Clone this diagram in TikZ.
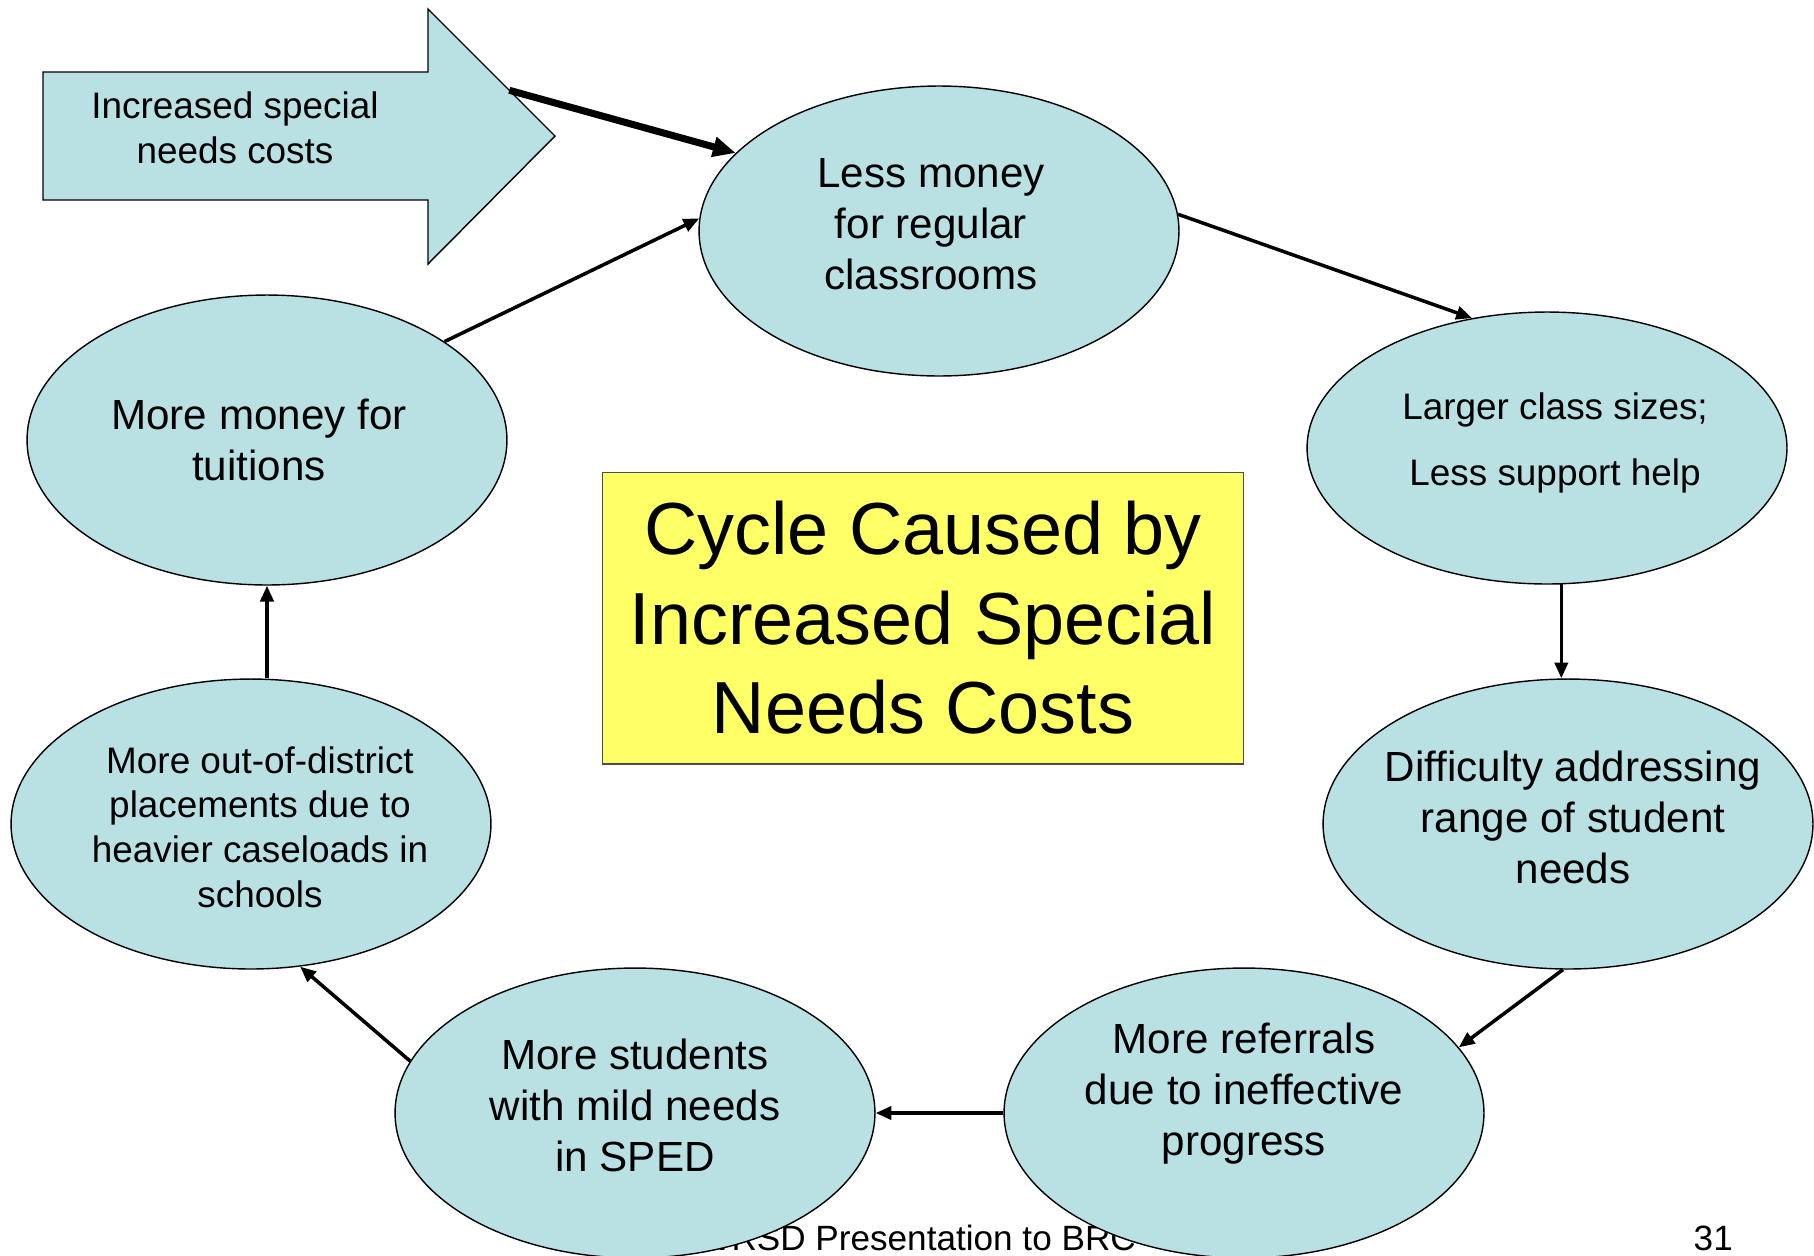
\documentclass[tikz,border=0pt]{standalone}
\usepackage{fontspec}
\setmainfont{Liberation Sans}
\usetikzlibrary{shapes,arrows.meta,calc}
\definecolor{tealfill}{HTML}{B9E0E3}
\definecolor{bannerfill}{HTML}{FFFF66}

\begin{document}
\begin{tikzpicture}[x=0.02cm, y=-0.02cm,
bubble/.style={ellipse,draw,line width=0.8pt,fill=tealfill,inner sep=0pt,
  minimum width=9.6cm, minimum height=5.8cm},
words/.style={align=center, font=\fontsize{24}{29}\selectfont},
banner/.style={rectangle,draw=black!70,line width=0.6pt,fill=bannerfill,
  minimum width=12.82cm, minimum height=5.84cm, align=center,
  font=\fontsize{42}{51}\selectfont},
link/.style={line width=2pt, -{Triangle[length=9pt,width=7.5pt]}},
  %% every node/.style = {draw, align=center}
    ]
  \useasboundingbox (0,0) rectangle (1814,1255);

  % footer, partly under the bubbles
  \node[anchor=base east, font=\fontsize{20}{24}\selectfont] (footer) at (1142,1250) {WRSD Presentation to BRC};
  \node[anchor=base east, font=\fontsize{20}{24}\selectfont] (pageno) at (1739,1250) {31};

  % the input arrow
  \draw[fill=tealfill, line width=0.8pt] (43,72) -- (428,72) -- (428,9) -- (555,136)
    -- (428,264) -- (428,200) -- (43,200) -- cycle;
  \node[align=center, font=\fontsize{21}{25.5}\selectfont] (costs) at (235,128) {Increased special\\needs costs};
  \coordinate (costs tip) at ($(428,9)!0.64!(555,136)$);

  % the cycle
  \node[bubble] (lessmoney) at (939,231)
    [label={[words, xshift=-0.16cm, yshift=0.14cm]center:Less money\\for regular\\classrooms}] {};
  \node[bubble, minimum height=5.44cm] (classsize) at (1547,448)
    [label={[align=center, font=\fontsize{21}{38}\selectfont, xshift=0.16cm, yshift=0.1cm]center:Larger class sizes;\\Less support help}] {};
  \node[bubble, minimum width=9.8cm] (difficulty) at (1568,824)
    [label={[words, xshift=0.1cm, yshift=0.14cm]center:Difficulty addressing\\range of student\\needs}] {};
  \node[bubble] (referrals) at (1244,1113)
    [label={[words, yshift=0.38cm]center:More referrals\\due to ineffective\\progress}] {};
  \node[bubble] (mildsped) at (635,1113)
    [label={[words, yshift=0.16cm]center:More students\\with mild needs\\in SPED}] {};
  \node[bubble] (outdistrict) at (251,824)
    [label={[align=center, font=\fontsize{21}{25.5}\selectfont, xshift=0.18cm, yshift=-0.06cm]center:More out-of-district\\placements due to\\heavier caseloads in\\schools}] {};
  \node[bubble] (tuitions) at (267,440)
    [label={[words, xshift=-0.16cm]center:More money for\\tuitions}] {};

  \node[banner] (cycle) at (923,618) {Cycle Caused by\\Increased Special\\Needs Costs};

  % connectors
  \draw[line width=4pt, -{Triangle[length=13pt,width=11pt]}] (costs tip) -- (lessmoney.159);
  \draw[link] (tuitions.29) -- (lessmoney.177);
  \draw[link] (lessmoney.4) -- (classsize.120);
  \draw[link] (classsize.-84) -- (classsize.-84 |- difficulty.north);
  \draw[link] (difficulty.-92) -- (referrals.17);
  \draw[link] (referrals.west) -- (mildsped.east);
  \draw[link] (mildsped.167) -- (outdistrict.-71);
  \draw[link] (tuitions.south |- outdistrict.north) -- (tuitions.south);
\end{tikzpicture}
\end{document}
